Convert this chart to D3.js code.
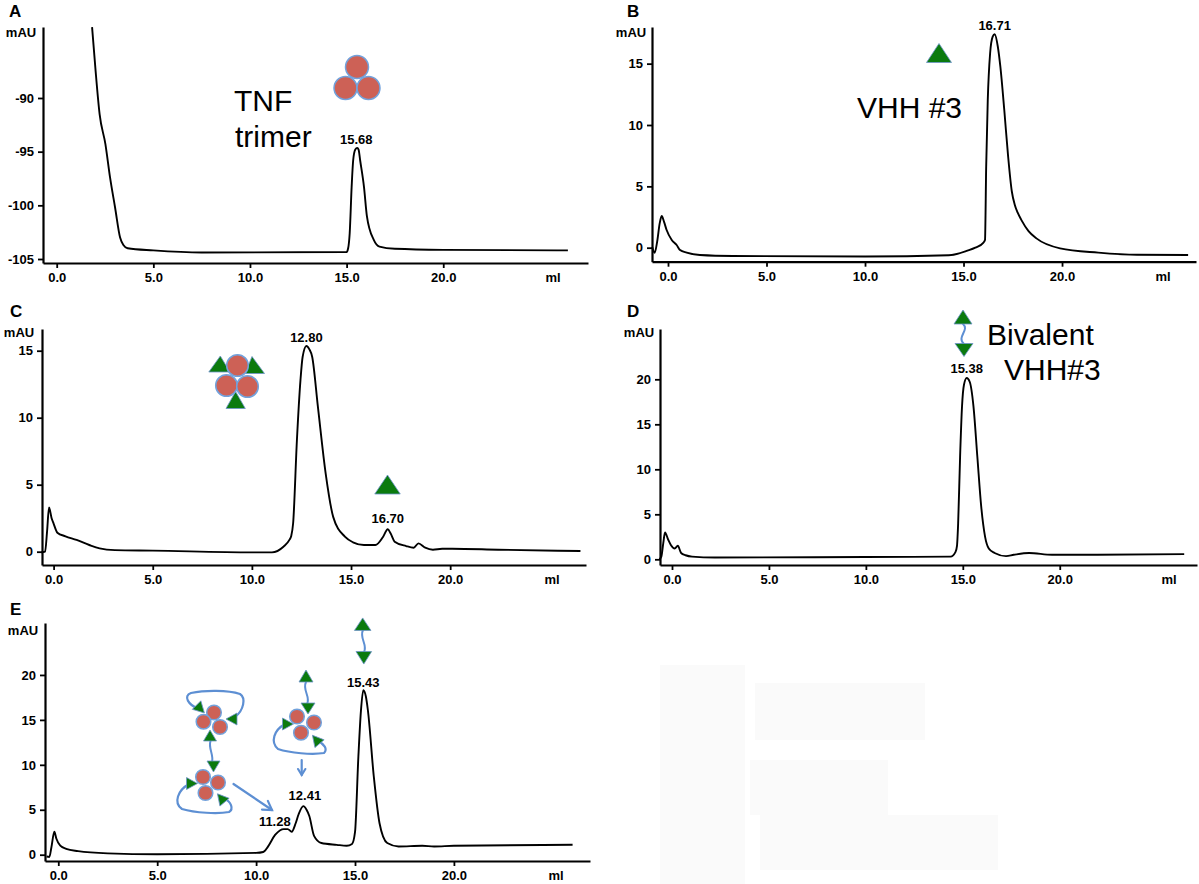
<!DOCTYPE html>
<html><head><meta charset="utf-8">
<script src="https://cdn.jsdelivr.net/npm/d3@7/dist/d3.min.js"></script>
<style>body{margin:0;background:#fff;}svg{display:block;font-family:"Liberation Sans",Arial,sans-serif;}</style>
</head><body>
<svg id="c" width="1199" height="884"></svg>
<script>
// ---------------- DATA ----------------
const panelLetters = ["A", "B", "C", "D", "E"];
const xTickValues = [0, 5, 10, 15, 20];
const xTickLabels = ["0.0", "5.0", "10.0", "15.0", "20.0"];
const yTicksA = [-105, -100, -95, -90];
const yTicksB = [0, 5, 10, 15];
const yTicksC = [0, 5, 10, 15];
const yTicksD = [0, 5, 10, 15, 20];
const yTicksE = [0, 5, 10, 15, 20];

// Panel A: TNF trimer
const mlA  = [1.83, 2.0, 2.22, 2.52, 2.76, 3.02, 3.28, 3.45, 3.67, 5, 7.5, 15.0, 15.08, 15.16, 15.26, 15.34, 15.45, 15.55, 15.62, 15.7, 15.9, 16.05, 16.4, 16.7, 17.5, 20, 26.45];
const mauA = [-83.4, -87.2, -91.5, -94.3, -97.4, -100.2, -103.0, -103.7, -104.0, -104.2, -104.4, -104.35, -104.0, -102.6, -98.3, -95.8, -94.8, -94.65, -94.8, -95.8, -98.3, -101.0, -103.2, -103.85, -104.05, -104.15, -104.2];
// Panel B: VHH #3
const mlB  = [-0.8, -0.68, -0.55, -0.42, -0.32, -0.2, -0.07, 0.19, 0.44, 0.61, 0.95, 1.62, 3.3, 10, 14.25, 15.2, 15.6, 16.0, 16.09, 16.15, 16.23, 16.35, 16.48, 16.58, 16.74, 16.87, 17.07, 17.26, 17.45, 17.6, 17.75, 17.94, 18.3, 18.7, 19.9, 21.84, 23.8, 26.4];
const mauB = [0.05, -0.42, 0.5, 2.0, 2.58, 2.1, 1.44, 0.63, 0.22, -0.19, -0.4, -0.6, -0.68, -0.72, -0.62, -0.24, 0.0, 0.4, 0.63, 6.6, 12.0, 15.85, 17.2, 17.4, 16.4, 14.75, 11.2, 7.5, 4.6, 3.5, 2.85, 2.25, 1.35, 0.76, -0.05, -0.4, -0.58, -0.6];
// Panel C: TNF + VHH #3
const mlC  = [-0.62, -0.43, -0.33, -0.23, -0.1, 0, 0.19, 0.6, 1.16, 1.8, 2.32, 3.09, 5, 10, 11.01, 11.59, 11.9, 11.98, 12.08, 12.27, 12.45, 12.56, 12.75, 12.9, 13.04, 13.33, 13.72, 14.1, 14.69, 15.1, 15.65, 16.23, 16.62, 16.85, 17.0, 17.2, 17.78, 18.16, 18.4, 18.74, 19.13, 19.6, 20.1, 22.42, 26.57];
const mauC = [-0.05, 0.0, 1.5, 3.3, 2.5, 2.1, 1.42, 1.15, 0.88, 0.5, 0.25, 0.12, 0.08, -0.05, -0.05, 0.37, 0.9, 1.15, 2.12, 8.3, 12.8, 14.55, 15.35, 15.1, 14.55, 10.8, 5.85, 2.6, 1.12, 0.7, 0.5, 0.5, 1.12, 1.67, 1.35, 0.75, 0.42, 0.3, 0.62, 0.3, 0.15, 0.22, 0.22, 0.15, 0.05];
// Panel D: bivalent VHH#3
const mlD  = [-0.65, -0.55, -0.45, -0.36, -0.2, -0.06, 0.14, 0.3, 0.47, 0.7, 1.03, 2.21, 10, 14.37, 14.62, 14.7, 14.76, 14.86, 14.96, 15.06, 15.2, 15.36, 15.55, 15.75, 15.95, 16.15, 16.34, 16.64, 17.23, 17.63, 18.42, 19.6, 20.99, 26.42];
const mauD = [0.0, 0.3, 1.8, 2.98, 2.2, 1.6, 1.2, 1.5, 0.7, 0.45, 0.3, 0.2, 0.25, 0.3, 0.8, 1.5, 4.0, 11.4, 17.0, 19.4, 20.15, 19.7, 17.0, 11.4, 5.85, 2.5, 1.2, 0.7, 0.35, 0.5, 0.7, 0.5, 0.5, 0.57];
// Panel E: TNF + bivalent VHH#3
const mlE  = [-0.59, -0.45, -0.35, -0.2, -0.1, 0.1, 0.4, 1.0, 2.5, 5, 10, 10.36, 10.6, 10.96, 11.2, 11.4, 11.6, 11.8, 12.0, 12.15, 12.39, 12.55, 12.69, 12.93, 13.3, 14.08, 14.58, 14.85, 15.0, 15.17, 15.3, 15.42, 15.55, 15.65, 15.95, 16.24, 16.63, 17.2, 18.4, 19.0, 20, 26.0];
const mauE = [-0.2, -0.25, 0.8, 2.55, 1.8, 1.0, 0.65, 0.4, 0.15, 0.05, 0.2, 0.3, 0.9, 2.2, 2.7, 2.85, 2.85, 2.55, 3.5, 4.5, 5.4, 5.0, 4.3, 2.1, 1.3, 1.1, 1.0, 1.2, 2.5, 10.9, 16.0, 18.3, 17.6, 16.1, 8.7, 3.5, 1.3, 0.92, 1.0, 0.92, 1.0, 1.1];

// Peak labels
const peakTextA = ["15.68"], peakMlA = [15.55], peakMauA = [-94.65];
const peakTextB = ["16.71"], peakMlB = [16.58], peakMauB = [17.4];
const peakTextC = ["12.80", "16.70"], peakMlC = [12.75, 16.85], peakMauC = [15.35, 1.67];
const peakTextD = ["15.38"], peakMlD = [15.2], peakMauD = [20.15];
const peakTextE = ["11.28", "12.41", "15.43"], peakMlE = [11.4, 12.39, 15.42], peakMauE = [2.85, 5.4, 18.3];

// ---------------- DRAW ----------------
const svg = d3.select("#c");
const GREEN = "#0b7a0e", RED = "#cd6156", BLUE = "#5d8fd3", EDGE = "#72a2dc";

// faint pasted-image patches
[[660, 665, 85, 219], [755, 683, 170, 57], [750, 760, 138, 55], [760, 815, 238, 55]].forEach(r =>
  svg.append("rect").attr("x", r[0]).attr("y", r[1]).attr("width", r[2]).attr("height", r[3]).attr("fill", "#fafafa"));

function panel(p) {
  const g = svg.append("g");
  const x = d3.scaleLinear().domain(p.xDom).range([p.left, p.right]);
  const y = d3.scaleLinear().domain(p.yDom).range([p.bottom, p.top]);

  const ya = g.append("g").attr("transform", `translate(${p.left},0)`)
    .call(d3.axisLeft(y).tickValues(p.yTicks).tickSize(5).tickSizeOuter(0).tickPadding(4).tickFormat(d => String(d)));
  const xa = g.append("g").attr("transform", `translate(0,${p.bottom})`)
    .call(d3.axisBottom(x).tickValues(xTickValues).tickSize(5).tickSizeOuter(0).tickPadding(5).tickFormat((d, i) => xTickLabels[i]));
  [ya, xa].forEach(a => {
    a.attr("font-family", null).attr("font-size", null);
    a.select(".domain").attr("stroke", "#000").attr("stroke-width", 2.2);
    a.selectAll(".tick line").attr("stroke", "#000").attr("stroke-width", 1.8);
    a.selectAll(".tick text").attr("fill", "#000").style("font", "bold 13px 'Liberation Sans', Arial, sans-serif");
  });

  const line = d3.line().x((d, i) => x(p.ml[i])).y((d, i) => y(p.mau[i])).curve(d3.curveMonotoneX);
  g.append("path").attr("d", line(p.ml)).attr("fill", "none").attr("stroke", "#000").attr("stroke-width", 1.9).attr("stroke-linejoin", "round");

  g.append("text").text(p.letter).attr("x", p.letterX).attr("y", p.letterY).style("font", "bold 17px 'Liberation Sans', Arial, sans-serif");
  g.append("text").text("mAU").attr("x", p.mauX).attr("y", p.mauY).attr("text-anchor", "middle").style("font", "bold 13px 'Liberation Sans', Arial, sans-serif");
  g.append("text").text("ml").attr("x", p.right + p.mlOff).attr("y", p.bottom + 19).attr("text-anchor", "middle").style("font", "bold 13px 'Liberation Sans', Arial, sans-serif");

  p.peakText.forEach((t, i) => {
    const off = p.peakOff[i];
    g.append("text").text(t).attr("x", x(p.peakMl[i]) + off[0]).attr("y", y(p.peakMau[i]) + off[1])
      .attr("text-anchor", "middle").style("font", "bold 13px 'Liberation Sans', Arial, sans-serif");
  });
  return g;
}

panel({letter: panelLetters[0], letterX: 9, letterY: 17, left: 43, right: 588, top: 27, bottom: 263,
  xDom: [-0.709, 27.49], yDom: [-105.373, -83.385], yTicks: yTicksA, ml: mlA, mau: mauA,
  mauX: 21, mauY: 37, mlOff: -35, peakText: peakTextA, peakMl: peakMlA, peakMau: peakMauA, peakOff: [[-1, -4]]});
panel({letter: panelLetters[1], letterX: 627, letterY: 17, left: 652, right: 1196, top: 27, bottom: 261.7,
  xDom: [-0.812, 26.8], yDom: [-1.141, 17.987], yTicks: yTicksB, ml: mlB, mau: mauB,
  mauX: 631, mauY: 37, mlOff: -33, peakText: peakTextB, peakMl: peakMlB, peakMau: peakMauB, peakOff: [[0, -4]]});
panel({letter: panelLetters[2], letterX: 10, letterY: 317, left: 42, right: 586, top: 329, bottom: 565,
  xDom: [-0.585, 26.85], yDom: [-0.993, 16.62], yTicks: yTicksC, ml: mlC, mau: mauC,
  mauX: 19, mauY: 337, mlOff: -34, peakText: peakTextC, peakMl: peakMlC, peakMau: peakMauC, peakOff: [[0, -4.5], [0, -6]]});
panel({letter: panelLetters[3], letterX: 627, letterY: 317, left: 660, right: 1197, top: 329, bottom: 565,
  xDom: [-0.619, 27.08], yDom: [-0.633, 25.59], yTicks: yTicksD, ml: mlD, mau: mauD,
  mauX: 639, mauY: 337, mlOff: -28, peakText: peakTextD, peakMl: peakMlD, peakMau: peakMauD, peakOff: [[0, -4.6]]});
panel({letter: panelLetters[4], letterX: 10, letterY: 615, left: 45, right: 590, top: 623, bottom: 861,
  xDom: [-0.672, 26.88], yDom: [-0.7, 25.78], yTicks: yTicksE, ml: mlE, mau: mauE,
  mauX: 23, mauY: 635, mlOff: -34, peakText: peakTextE, peakMl: peakMlE, peakMau: peakMauE, peakOff: [[-9, -2.6], [1.5, -6.4], [0, -3.6]]});

// ---------------- ANNOTATIONS ----------------
const ann = svg.append("g");
function bigText(t, x, y) {
  ann.append("text").text(t).attr("x", x).attr("y", y).style("font", "30px 'Liberation Sans', Arial, sans-serif").attr("fill", "#000");
}
function tri(cx, cy, w, h, rot) {
  ann.append("path").attr("d", `M0,${-h / 2}L${w / 2},${h / 2}L${-w / 2},${h / 2}Z`)
    .attr("transform", `translate(${cx},${cy}) rotate(${rot})`)
    .attr("fill", GREEN).attr("stroke", "#6f94cc").attr("stroke-width", 0.8).attr("stroke-linejoin", "round");
}
function poly(pts) {
  ann.append("polygon").attr("points", pts.map(p => p.join(",")).join(" "))
    .attr("fill", GREEN).attr("stroke", "#6f94cc").attr("stroke-width", 0.8);
}
function circ(cx, cy, r) {
  ann.append("circle").attr("cx", cx).attr("cy", cy).attr("r", r).attr("fill", RED).attr("stroke", EDGE).attr("stroke-width", 1.5);
}
function curve(d, w) {
  ann.append("path").attr("d", d).attr("fill", "none").attr("stroke", BLUE).attr("stroke-width", w || 2.2).attr("stroke-linecap", "round");
}
function arrow(x1, y1, x2, y2, hl) {
  curve(`M${x1},${y1}L${x2},${y2}`);
  const a = Math.atan2(y2 - y1, x2 - x1), s = 0.55;
  curve(`M${x2 - hl * Math.cos(a - s)},${y2 - hl * Math.sin(a - s)}L${x2},${y2}L${x2 - hl * Math.cos(a + s)},${y2 - hl * Math.sin(a + s)}`);
}

// A
bigText("TNF", 234, 111);
bigText("trimer", 235, 147);
circ(357, 67, 11.5); circ(345.5, 88, 11.5); circ(368.5, 88, 11.5);
// B
tri(939, 53, 25, 19, 0);
bigText("VHH #3", 857, 118);
// C
poly([[220.3, 356], [208.8, 372], [230, 372]]);
poly([[252, 356.5], [245, 373.5], [264.5, 373.5]]);
poly([[235.6, 391.5], [226, 408.5], [245.3, 408.5]]);
circ(237.5, 365.5, 10.8); circ(226.5, 385.5, 10.8); circ(247.5, 386.5, 10.8);
tri(387.5, 484.5, 25.5, 19, 0);
// D
curve("M963,324 C970,330 956,337 964,344", 2);
tri(963, 317, 18, 14, 0);
tri(964, 350, 18, 13, 180);
bigText("Bivalent", 987, 345);
bigText("VHH#3", 1004, 380);
// E : top bivalent
curve("M363,630 C359,638 368,645 364,652", 2);
tri(362.7, 624.2, 16.5, 12.5, 0);
tri(363.8, 657.8, 15.6, 12.5, 180);
// E : upper-left complex
curve("M199,709 C188,705 183,696 191,693 C205,690 228,690 240,694 C246,698 244,710 235,717");
curve("M210.5,741 C208,748 214,755 212,762", 2);
tri(200.5, 709, 12, 11, 135);
tri(231.5, 719, 12, 11, -90);
tri(210, 735.5, 13, 11, 0);
circ(214, 712.5, 7.3); circ(203.5, 721.7, 7.3); circ(220, 727, 7.3);
// E : lower-left complex
curve("M189,784 C178,790 173,803 182,809 C195,813 218,814 229,812 C234,809 231,801 224,799");
tri(213.5, 766.5, 13, 11, 180);
tri(192, 783.5, 12, 11, 90);
tri(221, 798, 12, 11, -40);
circ(203, 777, 7.3); circ(218, 782.5, 7.3); circ(205.5, 793, 7.3);
arrow(233.5, 784, 272, 810, 10);
// E : middle complex
curve("M306,682 C302,690 311,697 307,704", 2);
curve("M285,724 C274,730 270,742 278,749 C290,753 312,755 324,753 C328,749 324,744 318,741");
tri(306, 676, 14, 12, 0);
tri(308, 708.5, 14, 11, 180);
tri(288, 724, 12, 11, 90);
tri(316, 739.5, 12, 11, -40);
circ(297, 716.5, 7.3); circ(314, 722.5, 7.3); circ(301, 732.7, 7.3);
arrow(301.7, 760, 301.7, 775, 7);
</script>
</body></html>
